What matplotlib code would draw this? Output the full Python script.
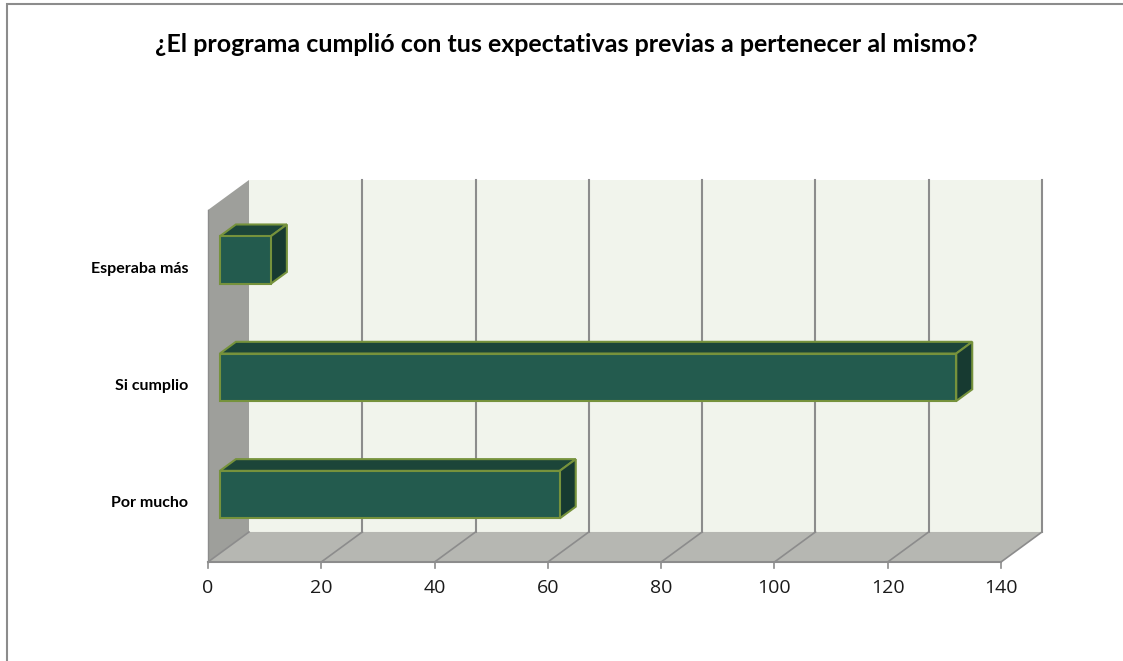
import matplotlib
matplotlib.use('Agg')
import matplotlib.pyplot as plt
from matplotlib.patches import Polygon, Rectangle

# data
categories = ['Por mucho', 'Si cumplio', 'Esperaba más']
values = [60, 130, 9]
xticks = [0, 20, 40, 60, 80, 100, 120, 140]
title = '¿El programa cumplió con tus expectativas previas a pertenecer al mismo?'

# 3d look (depth of the box, in data units)
DX = 7.24      # x-shift of back plane
DY = 0.256     # y-shift of back plane
BAR_FRONT = 0.29   # where bar front face sits in the depth
BAR_DEPTH = 0.39
BAR_H = 0.405

W, H = 1123, 661
fig = plt.figure(figsize=(W / 100, H / 100), dpi=100)
fig.patch.set_facecolor('white')

# chart border (only top/left inside the crop)
fig.add_artist(Rectangle((7 / W, -0.1), 1.2, (H - 4) / H + 0.1, transform=fig.transFigure,
                         fill=False, edgecolor='#8c8c8c', lw=1.5))

ax = fig.add_axes([208 / W, (H - 562) / H, (1001 - 208) / W, (562 - 210) / H])
ax.set_xlim(0, 140)
ax.set_ylim(0, 3)
ax.axis('off')

xmax = xticks[-1]
ny = len(categories)
grid_c = '#8c8c8c'

# back wall
ax.add_patch(Rectangle((DX, DY), xmax, ny, facecolor='#f1f4ec', edgecolor='none', clip_on=False, zorder=1))
# left wall
ax.add_patch(Polygon([(0, 0), (DX, DY), (DX, ny + DY), (0, ny)], closed=True,
                     facecolor='#9e9f9b', edgecolor='none', clip_on=False, zorder=1))
# floor
ax.add_patch(Polygon([(0, 0), (xmax, 0), (xmax + DX, DY), (DX, DY)], closed=True,
                     facecolor='#b6b7b2', edgecolor='none', clip_on=False, zorder=1))

# gridlines on back wall and floor
for t in xticks:
    if t > 0:
        ax.plot([t + DX, t + DX], [DY, ny + DY], color=grid_c, lw=1.5, clip_on=False, zorder=2)
    ax.plot([t, t + DX], [0, DY], color=grid_c, lw=1.2, clip_on=False, zorder=2)
    ax.plot([t, t], [0, -0.05], color=grid_c, lw=1.2, clip_on=False, zorder=2)
    ax.text(t, -0.22, str(t), ha='center', va='center', fontsize=14,
            family=['Open Sans', 'DejaVu Sans'], color='#1a1a1a')
ax.plot([0, xmax], [0, 0], color=grid_c, lw=1.5, clip_on=False, zorder=2)
ax.plot([0, 0], [0, ny], color=grid_c, lw=1.0, clip_on=False, zorder=2)

# category labels
for i, cat in enumerate(categories):
    ax.text(-3.5, i + 0.5, cat, ha='right', va='center', fontsize=11.5, fontweight='bold',
            family=['Lato', 'DejaVu Sans'], color='#000000')

# bars
edge = '#76923c'
for i, v in enumerate(values):
    x0 = DX * BAR_FRONT
    y0 = i + 0.5 - BAR_H / 2 + DY * BAR_FRONT
    x1 = v + x0
    y1 = y0 + BAR_H
    ddx = DX * BAR_DEPTH
    ddy = DY * BAR_DEPTH
    ax.add_patch(Polygon([(x0, y1), (x1, y1), (x1 + ddx, y1 + ddy), (x0 + ddx, y1 + ddy)], closed=True,
                         facecolor='#1c4539', edgecolor=edge, lw=1.5, clip_on=False, zorder=4))
    ax.add_patch(Polygon([(x1, y0), (x1 + ddx, y0 + ddy), (x1 + ddx, y1 + ddy), (x1, y1)], closed=True,
                         facecolor='#173a31', edgecolor=edge, lw=1.5, clip_on=False, zorder=4))
    ax.add_patch(Rectangle((x0, y0), v, BAR_H, facecolor='#235b4e', edgecolor=edge, lw=1.5,
                           clip_on=False, zorder=5))

fig.text(566 / W, (H - 45) / H, title, ha='center', va='center', fontsize=18, fontweight='bold',
         family=['Lato', 'DejaVu Sans'], color='#000000')

fig.savefig('out.png', dpi=100)
